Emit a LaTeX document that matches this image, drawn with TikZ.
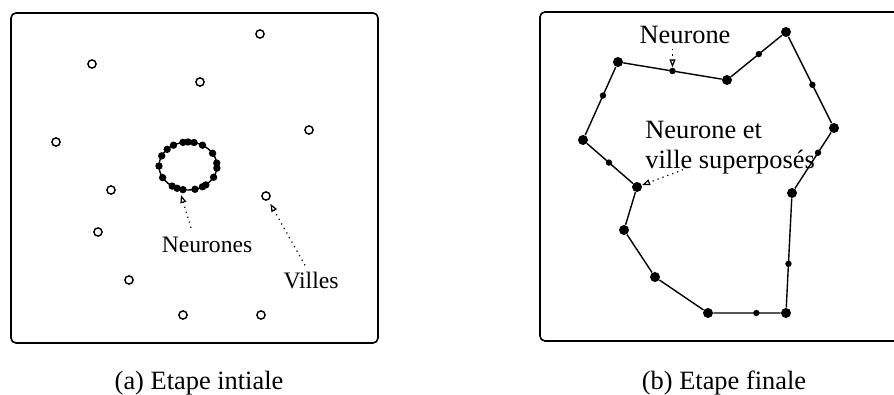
\documentclass[tikz,border=0pt]{standalone}
\usepackage{fontspec}
\setmainfont{Liberation Serif}
\usetikzlibrary{arrows.meta,calc}

\begin{document}
\begin{tikzpicture}[x=0.5pt,y=-0.5pt,
  every node/.style={inner sep=0pt},
  frame/.style={draw,line width=0.8pt,rounded corners=2.5pt},
  ville/.style={circle,draw,line width=0.7pt,minimum size=4.1pt},
  neur/.style={circle,fill,minimum size=3.2pt},
  ringneur/.style={circle,fill,minimum size=3.7pt},
  bigneur/.style={circle,fill,minimum size=5pt},
  lbl/.style={font=\fontsize{11.8}{14}\selectfont},
  lblb/.style={font=\fontsize{13.2}{15}\selectfont},
  arr/.style={-{Triangle[open,length=4pt,width=3pt]},dotted,line width=0.6pt}
]
\clip (0,0) rectangle (894,395);

% (a) initial step
\draw[frame] (11,13) rectangle (378,343);
\node[ville] (c1) at (260,34) {};
\node[ville] (c2) at (92,64) {};
\node[ville] (c3) at (200,82) {};
\node[ville] (c4) at (309,130) {};
\node[ville] (c5) at (56,142) {};
\node[ville] (c6) at (111,190) {};
\node[ville] (c7) at (266,196) {};
\node[ville] (c8) at (98,232) {};
\node[ville] (c9) at (129,280) {};
\node[ville] (c10) at (183,315) {};
\node[ville] (c11) at (261,315) {};

% ring of neurons
\draw[line width=0.7pt] (188,166) ellipse [x radius=29, y radius=24];
\foreach \a in {-120,-100,-90,-78,-60,-32,-7,5,28,52,60,76,100,112,123,151,180,-155,-136}
  \node[ringneur] at ($(188,166)+(\a:29 and 24)$) {};
\coordinate (ringbot) at (181,195);

\node[lbl] (neurones) at (207,245) {Neurones};
\node[lbl] (villes) at (311,280) {Villes};
\draw[arr] ([xshift=-8pt,yshift=4.5pt]neurones.north) -- (ringbot);
\draw[arr,shorten >=2pt] ([xshift=-3pt,yshift=3pt]villes.north) -- (c7);

\node[lblb] (capa) at (199,383) {(a) Etape intiale};

% (b) final step
\draw[frame] (540,12) rectangle (910,341);
\node[bigneur] (A) at (618,62) {};
\node[bigneur] (B) at (727,80) {};
\node[bigneur] (C) at (786,32) {};
\node[bigneur] (D) at (834,128) {};
\node[bigneur] (E) at (792,193) {};
\node[bigneur] (F) at (786,313) {};
\node[bigneur] (G) at (708,313) {};
\node[bigneur] (H) at (655,277) {};
\node[bigneur] (I) at (624,230) {};
\node[bigneur] (J) at (637,187) {};
\node[bigneur] (K) at (583,140) {};
\draw[line width=0.7pt] (A) -- (B) -- (C) -- (D) -- (E) -- (F) -- (G) -- (H) -- (I) -- (J) -- (K) -- (A);

\node[neur] (n1) at ($(A)!0.5!(B)$) {};
\node[neur] (n2) at ($(B)!0.54!(C)$) {};
\node[neur] (n3) at ($(C)!0.55!(D)$) {};
\node[neur] (n4) at ($(D)!0.38!(E)$) {};
\node[neur] (n5) at ($(E)!0.59!(F)$) {};
\node[neur] (n6) at ($(F)!0.38!(G)$) {};
\node[neur] (n7) at ($(J)!0.52!(K)$) {};
\node[neur] (n8) at ($(K)!0.57!(A)$) {};

\node[lblb] (neurone) at (685,35) {Neurone};
\node[lblb,align=left,anchor=north west] (superp) at (645,121) {Neurone et\\ville superposés};
\draw[arr] ([yshift=-2.5pt]n1 |- neurone.south) -- (n1);
\draw[arr] ([xshift=19pt,yshift=2.5pt]superp.south west) -- (J);

\node[lblb] (capb) at (724,383) {(b) Etape finale};
\end{tikzpicture}
\end{document}
